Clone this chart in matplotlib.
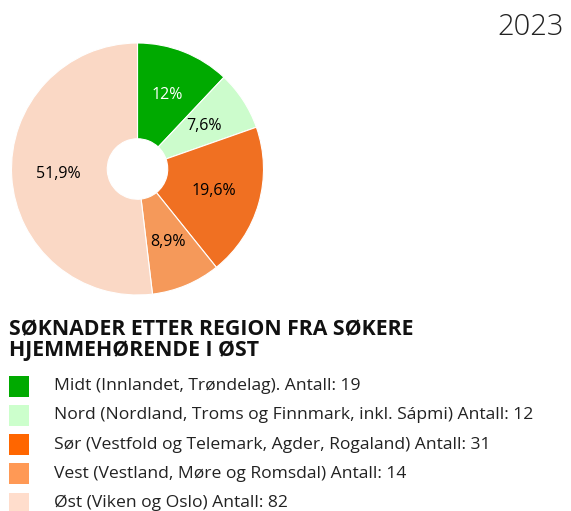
import matplotlib.pyplot as plt
from matplotlib.patches import Rectangle

plt.rcParams['font.family'] = ['Open Sans', 'DejaVu Sans']

regions = ['Midt (Innlandet, Trøndelag). Antall: 19',
           'Nord (Nordland, Troms og Finnmark, inkl. Sápmi) Antall: 12',
           'Sør (Vestfold og Telemark, Agder, Rogaland) Antall: 31',
           'Vest (Vestland, Møre og Romsdal) Antall: 14',
           'Øst (Viken og Oslo) Antall: 82']
counts = [19, 12, 31, 14, 82]
pie_colors = ['#00aa00', '#ccfccc', '#f07022', '#f5995a', '#fad8c5']
legend_colors = ['#00aa00', '#ccffcc', '#ff6600', '#ff9955', '#ffddcc']
label_colors = ['white', 'black', 'black', 'black', 'black']
title = 'SØKNADER ETTER REGION FRA SØKERE\nHJEMMEHØRENDE I ØST'
year = '2023'

W, H = 571, 511
fig = plt.figure(figsize=(W / 100, H / 100), dpi=100)

# pie placed in pixels: centre (137.5, 169), radius 126
cx, cy, r = 137.5, 169, 126
ax = fig.add_axes([(cx - r) / W, (H - cy - r) / H, 2 * r / W, 2 * r / H])


def fmt(p):
    s = f'{p:.1f}'.replace('.', ',')
    return s[:-2] if s.endswith(',0') else s


wedges, texts, autotexts = ax.pie(
    counts, colors=pie_colors, startangle=90, counterclock=False,
    autopct=lambda p: fmt(p) + '%', pctdistance=0.63,
    wedgeprops=dict(width=0.76, edgecolor='white', linewidth=0.8),
    textprops=dict(fontsize=11.5, fontweight='medium'))
for t, c in zip(autotexts, label_colors):
    t.set_color(c)
ax.set_xlim(-1, 1)
ax.set_ylim(-1, 1)
ax.set_aspect('equal')

fig.text(564 / W, 1 - 27 / H, year, ha='right', va='center',
         fontsize=21, fontweight='light', color='#222222')

fig.text(9 / W, 1 - 340 / H, title, ha='left', va='center',
         fontsize=15.3, fontweight='bold', color='#111111', linespacing=1.0)

y0, dy = 386, 29.3
for i, (lab, col) in enumerate(zip(regions, legend_colors)):
    yc = y0 + i * dy
    fig.add_artist(Rectangle((9 / W, 1 - (yc + 10.5) / H), 20 / W, 21 / H,
                             transform=fig.transFigure, color=col, lw=0))
    fig.text(54 / W, 1 - yc / H, lab, ha='left', va='center',
             fontsize=12.6, color='#222222')

fig.savefig('out.png', dpi=100)
